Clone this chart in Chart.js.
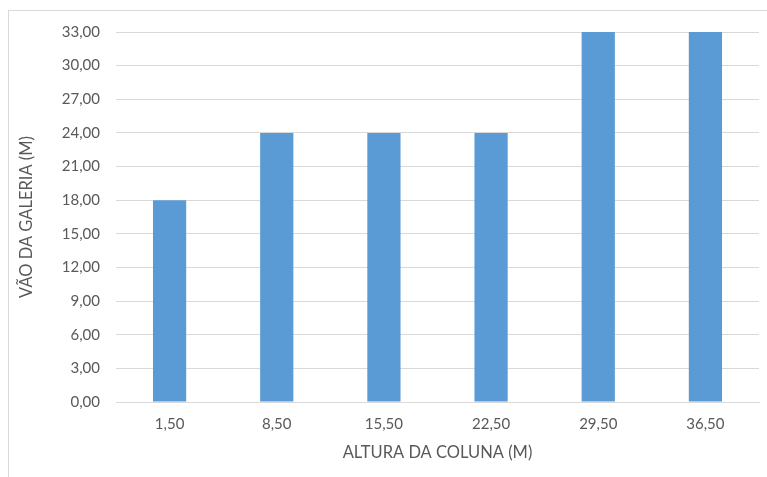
<!DOCTYPE html>
<html>
<head>
<meta charset="utf-8">
<script src="https://cdn.jsdelivr.net/npm/chart.js@4"></script>
<style>
  html, body { margin: 0; padding: 0; width: 767px; height: 477px; overflow: hidden; background: #fff; }
  #frame { position: absolute; left: 8px; top: 10px; width: 800px; height: 520px; border: 1px solid #d9d9d9; box-sizing: border-box; }
  #wrap { position: absolute; left: 0; top: 0; width: 767px; height: 477px; }
</style>
</head>
<body>
<div id="frame"></div>
<div id="wrap"><canvas id="c" width="767" height="477"></canvas></div>
<script>
// Altura da coluna (m) e vão da galeria (m)
const categories = ["1,50", "8,50", "15,50", "22,50", "29,50", "36,50"];
const vaoGaleria = [18, 24, 24, 24, 33, 33];
const yMin = 0, yMax = 33, yStep = 3;

const textColor = "#595959";
const gridColor = "#d9d9d9";
const fontFamily = "Lato, 'Open Sans', sans-serif";

const fmt = v => Number(v).toFixed(2).replace(".", ",");

new Chart(document.getElementById("c"), {
  type: "bar",
  data: {
    labels: categories,
    datasets: [{
      data: vaoGaleria,
      backgroundColor: "#5b9bd5",
      borderWidth: 0,
      categoryPercentage: 1,
      barPercentage: 0.31
    }]
  },
  options: {
    responsive: false,
    animation: false,
    events: [],
    layout: { padding: { left: 0, top: 32, right: 8, bottom: 0 } },
    plugins: { legend: { display: false }, tooltip: { enabled: false } },
    scales: {
      x: {
        grid: { display: false, drawTicks: false },
        border: { display: true, color: gridColor, width: 1 },
        ticks: { color: textColor, font: { family: fontFamily, size: 15 }, padding: 13, maxRotation: 0 },
        title: { display: true, text: "ALTURA DA COLUNA (M)", color: textColor, font: { family: fontFamily, size: 16.5 }, padding: { top: 0, bottom: 14 } },
        afterFit: s => { s.height = 75; }
      },
      y: {
        min: yMin, max: yMax,
        grid: { color: gridColor, lineWidth: 1, drawTicks: false },
        border: { display: false },
        ticks: { stepSize: yStep, color: textColor, font: { family: fontFamily, size: 15 }, padding: 16, callback: v => fmt(v) },
        title: { display: true, text: "VÃO DA GALERIA (M)", color: textColor, font: { family: fontFamily, size: 16.5 }, padding: { top: 17, bottom: 0 } },
        afterFit: s => { s.width = 116; }
      }
    }
  }
});
</script>
</body>
</html>
